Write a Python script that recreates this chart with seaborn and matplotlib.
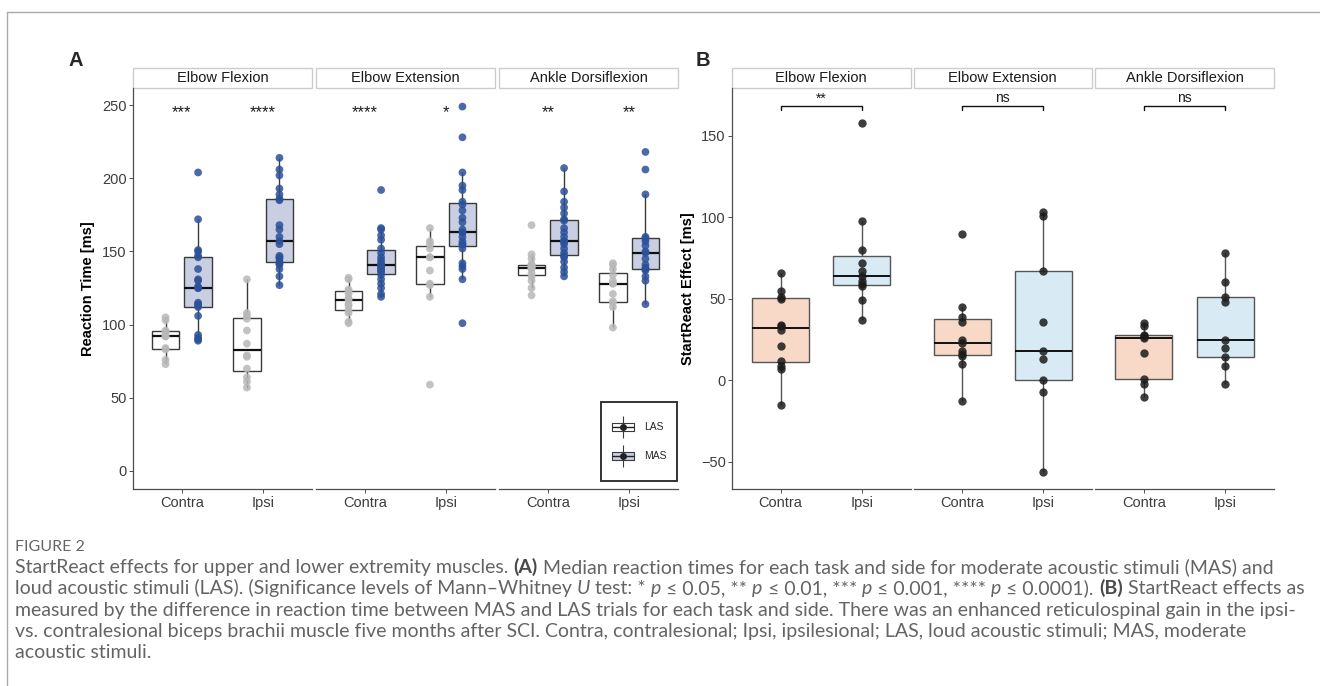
import matplotlib
matplotlib.use("Agg")
import matplotlib.pyplot as plt
import seaborn as sns
import numpy as np
import pandas as pd
from matplotlib.patches import Rectangle
from matplotlib.lines import Line2D
from matplotlib.legend_handler import HandlerTuple
from matplotlib.transforms import IdentityTransform

sns.set_theme(style="white")
plt.rcParams["font.family"] = ["Liberation Sans", "DejaVu Sans"]

# ---------------- data ----------------
tasks = ["Elbow Flexion", "Elbow Extension", "Ankle Dorsiflexion"]
sides = ["Contra", "Ipsi"]
stimuli = ["LAS", "MAS"]

# Panel A: reaction times [ms]
ef_contra_las = [73, 76, 83, 84, 92, 92, 94, 95, 96, 103, 105]
ef_contra_mas = [89, 90, 91, 93, 106, 112, 113, 114, 115, 125, 125, 126, 130, 131, 138, 146, 147, 150, 151, 172, 204]
ef_ipsi_las = [57, 61, 64, 70, 78, 79, 87, 96, 104, 106, 108, 131]
ef_ipsi_mas = [127, 133, 138, 141, 142, 143, 145, 146, 147, 155, 157, 160, 165, 168, 185, 186, 189, 193, 202, 206, 214]
ee_contra_las = [101, 102, 108, 110, 113, 114, 117, 118, 121, 123, 124, 131, 132]
ee_contra_mas = [119, 121, 125, 128, 131, 134, 136, 137, 138, 139, 140, 141, 142, 144, 146, 149, 152, 158, 161, 165, 166, 192]
ee_ipsi_las = [59, 119, 127, 128, 137, 146, 146, 152, 155, 157, 166]
ee_ipsi_mas = [101, 131, 138, 140, 142, 152, 155, 155, 157, 160, 163, 163, 165, 170, 173, 178, 182, 184, 192, 195, 204, 228, 249]
ad_contra_las = [120, 125, 130, 133, 135, 138, 139, 139, 140, 140, 141, 141, 145, 148, 168]
ad_contra_mas = [133, 136, 139, 143, 146, 147, 149, 152, 155, 157, 157, 157, 160, 163, 166, 171, 172, 176, 180, 184, 191, 207]
ad_ipsi_las = [98, 112, 115, 116, 121, 128, 128, 130, 134, 138, 141, 142]
ad_ipsi_mas = [114, 130, 133, 137, 138, 139, 141, 145, 149, 150, 154, 157, 159, 160, 189, 206, 218]
sig_a = [["***", "****"], ["****", "*"], ["**", "**"]]

# Panel B: StartReact effect [ms]
effect_ef_contra = [-15, 7, 9, 12, 21, 31, 33, 34, 50, 51, 55, 66]
effect_ef_ipsi = [37, 49, 58, 59, 61, 64, 67, 72, 80, 98, 158]
effect_ee_contra = [-13, 10, 15, 16, 18, 23, 25, 36, 39, 45, 90]
effect_ee_ipsi = [-56, -7, 0, 13, 18, 36, 67, 101, 103]
effect_ad_contra = [-10, -2, 1, 17, 26, 27, 27.5, 33, 35]
effect_ad_ipsi = [-2, 9, 14, 20, 25, 48, 51, 60, 78]
sig_b = ["**", "ns", "ns"]

rt_sets = {
    ("Elbow Flexion", "Contra", "LAS"): ef_contra_las,
    ("Elbow Flexion", "Contra", "MAS"): ef_contra_mas,
    ("Elbow Flexion", "Ipsi", "LAS"): ef_ipsi_las,
    ("Elbow Flexion", "Ipsi", "MAS"): ef_ipsi_mas,
    ("Elbow Extension", "Contra", "LAS"): ee_contra_las,
    ("Elbow Extension", "Contra", "MAS"): ee_contra_mas,
    ("Elbow Extension", "Ipsi", "LAS"): ee_ipsi_las,
    ("Elbow Extension", "Ipsi", "MAS"): ee_ipsi_mas,
    ("Ankle Dorsiflexion", "Contra", "LAS"): ad_contra_las,
    ("Ankle Dorsiflexion", "Contra", "MAS"): ad_contra_mas,
    ("Ankle Dorsiflexion", "Ipsi", "LAS"): ad_ipsi_las,
    ("Ankle Dorsiflexion", "Ipsi", "MAS"): ad_ipsi_mas,
}
eff_sets = {
    ("Elbow Flexion", "Contra"): effect_ef_contra,
    ("Elbow Flexion", "Ipsi"): effect_ef_ipsi,
    ("Elbow Extension", "Contra"): effect_ee_contra,
    ("Elbow Extension", "Ipsi"): effect_ee_ipsi,
    ("Ankle Dorsiflexion", "Contra"): effect_ad_contra,
    ("Ankle Dorsiflexion", "Ipsi"): effect_ad_ipsi,
}
df_a = pd.DataFrame([(t, s, m, v) for (t, s, m), vals in rt_sets.items() for v in vals],
                    columns=["task", "side", "stim", "rt"])
df_b = pd.DataFrame([(t, s, v) for (t, s), vals in eff_sets.items() for v in vals],
                    columns=["task", "side", "effect"])

# ---------------- figure ----------------
W, H = 1320, 686
fig = plt.figure(figsize=(W / 100, H / 100), dpi=100)
fig.patch.set_facecolor("white")

def add_ax(x0, x1, ytop=88, ybot=489):
    return fig.add_axes([x0 / W, 1 - ybot / H, (x1 - x0) / W, (ybot - ytop) / H])

axes_a = [add_ax(133, 312), add_ax(316, 495), add_ax(499, 678)]
axes_b = [add_ax(732, 910.5), add_ax(913.5, 1092), add_ax(1095, 1274)]

TICK_COL = "#3d3d3d"
AX_COL = "#4d4d4d"

def style_ax(ax, first, ylim, yticks, title):
    ax.set_xlim(-0.6, 1.6)
    ax.set_ylim(*ylim)
    ax.set_yticks(yticks)
    ax.set_facecolor("white")
    for sp in ["top", "right"]:
        ax.spines[sp].set_visible(False)
    ax.spines["bottom"].set_color(AX_COL)
    ax.spines["bottom"].set_linewidth(0.9)
    ax.spines["left"].set_color(AX_COL)
    ax.spines["left"].set_linewidth(0.9)
    ax.tick_params(axis="both", colors=AX_COL, labelcolor=TICK_COL, labelsize=10.5,
                   length=3, width=0.7, bottom=True, left=True)
    ax.tick_params(axis="y", pad=1.5)
    ax.tick_params(axis="x", pad=2)
    ax.set_xlabel("")
    ax.set_ylabel("")
    if not first:
        ax.spines["left"].set_visible(False)
        ax.tick_params(axis="y", left=False, labelleft=False)
    sh = 20 / 401
    ax.add_patch(Rectangle((0, 1), 1, sh, transform=ax.transAxes, clip_on=False,
                           facecolor="white", edgecolor="#cccccc", lw=1))
    ax.text(0.5, 1 + sh / 2, title, transform=ax.transAxes, ha="center", va="center",
            fontsize=10.5, color="#1a1a1a")

# ---- Panel A ----
box_pal_a = {"LAS": "white", "MAS": "#c9cee3"}
pt_pal_a = {"LAS": "#b8b8b8", "MAS": "#2b5199"}
for i, task in enumerate(tasks):
    ax = axes_a[i]
    d = df_a[df_a.task == task]
    sns.boxplot(data=d, x="side", y="rt", hue="stim", order=sides, hue_order=stimuli,
                palette=box_pal_a, saturation=1, width=0.8, gap=0.15, showfliers=False,
                showcaps=False, linewidth=1.0, linecolor="#3a3a3a",
                medianprops=dict(color="#111111", linewidth=1.6), legend=False, ax=ax)
    sns.stripplot(data=d, x="side", y="rt", hue="stim", order=sides, hue_order=stimuli,
                  palette=pt_pal_a, dodge=True, jitter=False, size=5.6, alpha=0.85,
                  linewidth=0, legend=False, ax=ax, zorder=3)
    style_ax(ax, i == 0, (-12.3, 261.7), [0, 50, 100, 150, 200, 250], task)
    for j, s in enumerate(sig_a[i]):
        ax.text(j, 245, s, ha="center", va="center", fontsize=12, color="#1a1a1a")

axes_a[0].set_ylabel("Reaction Time [ms]", fontsize=10.5, fontweight="bold",
                     color="black", labelpad=5)

# legend in panel A (boxplot-like keys)
RECT = [(-2.55, -1), (2.55, -1), (2.55, 1), (-2.55, 1), (-2.55, -1)]


class BoxKeyHandler(HandlerTuple):
    """Overlay the key parts, vertically centred on the legend row."""
    def create_artists(self, legend, orig_handle, xdescent, ydescent, width, height,
                       fontsize, trans):
        return super().create_artists(legend, orig_handle, xdescent, 2 * ydescent - 0.8,
                                      width, height, fontsize, trans)


def key(fc):
    return (Line2D([], [], color="#3a3a3a", marker="|", ms=16.5, mew=0.8, ls="none"),
            Line2D([], [], marker=RECT, ms=16.5, mfc=fc, mec="#3a3a3a", mew=0.8, ls="none"),
            Line2D([], [], marker="_", ms=16.5, mec="#222222", mew=1.0, ls="none"),
            Line2D([], [], color="#222222", marker="o", ms=4, ls="none"))

leg = axes_a[2].legend([key("white"), key("#c9cee3")], stimuli,
                       handler_map={tuple: BoxKeyHandler(ndivide=1, pad=0)},
                       loc="lower right", bbox_to_anchor=(0.994, 0.02), borderaxespad=0,
                       fontsize=7.5, handlelength=2.2, handleheight=3.85,
                       handletextpad=0.9, labelspacing=0.05, borderpad=1.0,
                       fancybox=False, frameon=True)
leg.get_frame().set_edgecolor("black")
leg.get_frame().set_linewidth(1.4)

# ---- Panel B ----
box_pal_b = {"Contra": "#f8d8c7", "Ipsi": "#d8ebf4"}
for i, task in enumerate(tasks):
    ax = axes_b[i]
    d = df_b[df_b.task == task]
    sns.boxplot(data=d, x="side", y="effect", hue="side", order=sides, hue_order=sides,
                palette=box_pal_b, saturation=1, width=0.7, showfliers=False, showcaps=False,
                linewidth=1.0, linecolor="#555555",
                medianprops=dict(color="#111111", linewidth=1.4), legend=False, ax=ax)
    sns.stripplot(data=d, x="side", y="effect", order=sides, color="#1c1c1c", jitter=False,
                  size=6, alpha=0.85, linewidth=0, ax=ax, zorder=3)
    style_ax(ax, i == 0, (-66.7, 179.3), [-50, 0, 50, 100, 150], task)
    ax.plot([0, 0, 1, 1], [165.5, 168, 168, 165.5], color="#111111", lw=1.0, clip_on=False)
    ax.text(0.5, 170.5, sig_b[i], ha="center", va="baseline", fontsize=10, color="#1a1a1a")

axes_b[0].set_ylabel("StartReact Effect [ms]", fontsize=10.5, fontweight="bold",
                     color="black", labelpad=4)

# panel letters
fig.text(76 / W, 1 - 60 / H, "A", fontsize=14.5, fontweight="bold", ha="center", va="center")
fig.text(703 / W, 1 - 60 / H, "B", fontsize=14.5, fontweight="bold", ha="center", va="center")

# outer frame lines
fig.add_artist(Line2D([7 / W, 1], [1 - 12 / H, 1 - 12 / H], transform=fig.transFigure,
                      color="#aaaaaa", lw=1))
fig.add_artist(Line2D([7 / W, 7 / W], [0, 1 - 12 / H], transform=fig.transFigure,
                      color="#aaaaaa", lw=1))

# ---------------- caption ----------------
renderer = fig.canvas.get_renderer()
CAP_FAM = ["Lato", "DejaVu Sans"]
CAP_COL = "#646464"

def style_kw(st, size):
    kw = dict(fontsize=size, family=CAP_FAM, color=CAP_COL)
    if st == "b":
        kw.update(fontweight="bold", color="#4a4a4a")
    elif st == "i":
        kw.update(fontstyle="italic")
    return kw

def text_width(s, st, size):
    t1 = fig.text(0, 0, "X" + s + "X", transform=IdentityTransform(), **style_kw(st, size))
    t2 = fig.text(0, 0, "XX", transform=IdentityTransform(), **style_kw(st, size))
    w = t1.get_window_extent(renderer).width - t2.get_window_extent(renderer).width
    t1.remove(); t2.remove()
    return w

def draw_line(runs, x, y_px, size):
    for s, st in runs:
        lead = len(s) - len(s.lstrip(" "))
        xs = x + (text_width(" " * lead, st, size) if lead else 0)
        body = s.strip(" ")
        if body:
            fig.text(xs, H - y_px, body, transform=IdentityTransform(), ha="left",
                     va="baseline", **style_kw(st, size))
        x += text_width(s, st, size)

cap_lines = [
    [("StartReact effects for upper and lower extremity muscles. ", "n"), ("(A)", "b"),
     (" Median reaction times for each task and side for moderate acoustic stimuli (MAS) and", "n")],
    [("loud acoustic stimuli (LAS). (Significance levels of Mann\u2013Whitney ", "n"), ("U", "i"),
     (" test: * ", "n"), ("p", "i"), (" \u2264 0.05, ** ", "n"), ("p", "i"),
     (" \u2264 0.01, *** ", "n"), ("p", "i"), (" \u2264 0.001, **** ", "n"), ("p", "i"),
     (" \u2264 0.0001). ", "n"), ("(B)", "b"), (" StartReact effects as", "n")],
    [("measured by the difference in reaction time between MAS and LAS trials for each task and side. There was an enhanced reticulospinal gain in the ipsi-", "n")],
    [("vs. contralesional biceps brachii muscle five months after SCI. Contra, contralesional; Ipsi, ipsilesional; LAS, loud acoustic stimuli; MAS, moderate", "n")],
    [("acoustic stimuli.", "n")],
]

base = 10.0
w1 = sum(text_width(s, st, base) for s, st in cap_lines[0])
cap_size = base * 1258 / w1

fig.text(15, H - 551, "FIGURE 2", transform=IdentityTransform(), ha="left", va="baseline",
         fontsize=cap_size * 0.82, family=CAP_FAM, color="#666666")
for k, runs in enumerate(cap_lines):
    draw_line(runs, 15, 573 + 21.3 * k, cap_size)

fig.savefig("out.png", dpi=100, facecolor="white")
